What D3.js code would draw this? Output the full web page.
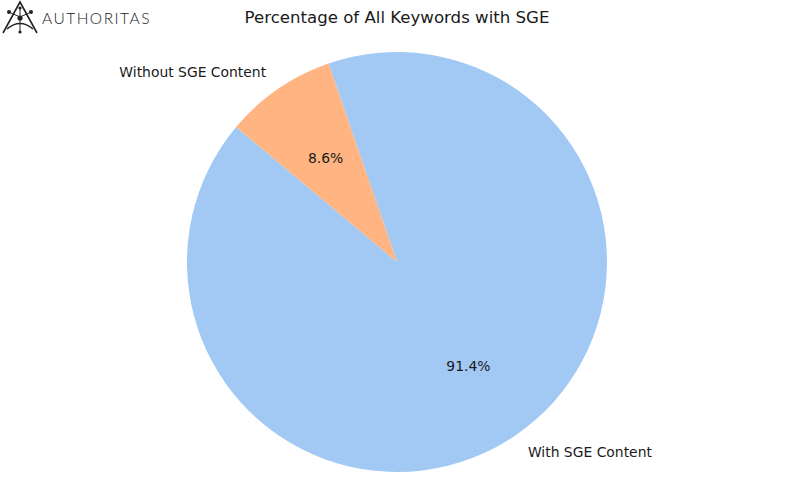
<!DOCTYPE html>
<html><head><meta charset="utf-8">
<script src="https://cdn.jsdelivr.net/npm/d3@7"></script>
<style>body{margin:0;background:#fff}svg{display:block}</style>
</head><body><svg id="c" width="794" height="504"></svg>
<script>
const categories = ["With SGE Content", "Without SGE Content"];
const values = [91.4, 8.6];
const colors = ["#a1c9f4", "#ffb482"];
const title = "Percentage of All Keywords with SGE";

const svg = d3.select("#c");
const W = 794, H = 504;
const cx = 397, cy = 262, R = 210;
const startDeg = 140;

const total = d3.sum(values);
const angScale = d3.scaleLinear().domain([0, total]).range([startDeg, startDeg + 360]);
let acc = 0;
const slices = values.map((v, i) => {
  const a0 = angScale(acc); acc += v; const a1 = angScale(acc);
  return {i, v, a0, a1};
});
const toD3 = a => (90 - a) * Math.PI / 180;
const arc = d3.arc().innerRadius(0).outerRadius(R);
const g = svg.append("g").attr("transform", `translate(${cx},${cy})`);
g.selectAll("path.s").data(slices).join("path")
  .attr("d", d => arc({startAngle: toD3(d.a1), endAngle: toD3(d.a0)}))
  .attr("fill", d => colors[d.i]);

const pt = (a, r) => [r * Math.cos(a * Math.PI/180), -r * Math.sin(a * Math.PI/180)];
slices.forEach(d => {
  const mid = (d.a0 + d.a1) / 2;
  const [lx, ly] = pt(mid, R * 1.1);
  const [px, py] = pt(mid, R * 0.6);
  g.append("text").attr("x", lx).attr("y", ly).attr("dy", "0.35em")
    .attr("text-anchor", lx >= 0 ? "start" : "end")
    .attr("font-family", "DejaVu Sans").attr("font-size", 13.9).attr("fill", "#1a1a1a")
    .text(categories[d.i]);
  g.append("text").attr("x", px).attr("y", py).attr("dy", "0.35em")
    .attr("text-anchor", "middle")
    .attr("font-family", "DejaVu Sans").attr("font-size", 13.9).attr("fill", "#1a1a1a")
    .text(d.v.toFixed(1) + "%");
});

svg.append("text").attr("x", 397).attr("y", 23).attr("text-anchor", "middle")
  .attr("font-family", "DejaVu Sans").attr("font-size", 16.6).attr("fill", "#1a1a1a")
  .text(title);

// Logo
const lg = svg.append("g").attr("stroke", "#222").attr("fill", "none").attr("stroke-width", 1.6);
lg.append("path").attr("d", "M3,33 L20,2 L37,33");
lg.append("path").attr("d", "M7,29 Q20,18 33,29").attr("stroke-width", 1.4);
lg.append("path").attr("d", "M9,12 L20,17 L31,12 M20,9 L20,33").attr("stroke-width", 1);
[[9,12,2],[31,12,2],[20,8,1.6],[20,18,2.6],[20,32,1.6]].forEach(([x,y,r]) =>
  lg.append("circle").attr("cx", x).attr("cy", y).attr("r", r).attr("fill", "#222").attr("stroke", "none"));
svg.append("text").attr("x", 42).attr("y", 23.5).attr("font-family", "Lato").attr("font-weight", 300)
  .attr("font-size", 15.5).attr("letter-spacing", 1.5).attr("fill", "#222").text("AUTHORITAS");
</script></body></html>
